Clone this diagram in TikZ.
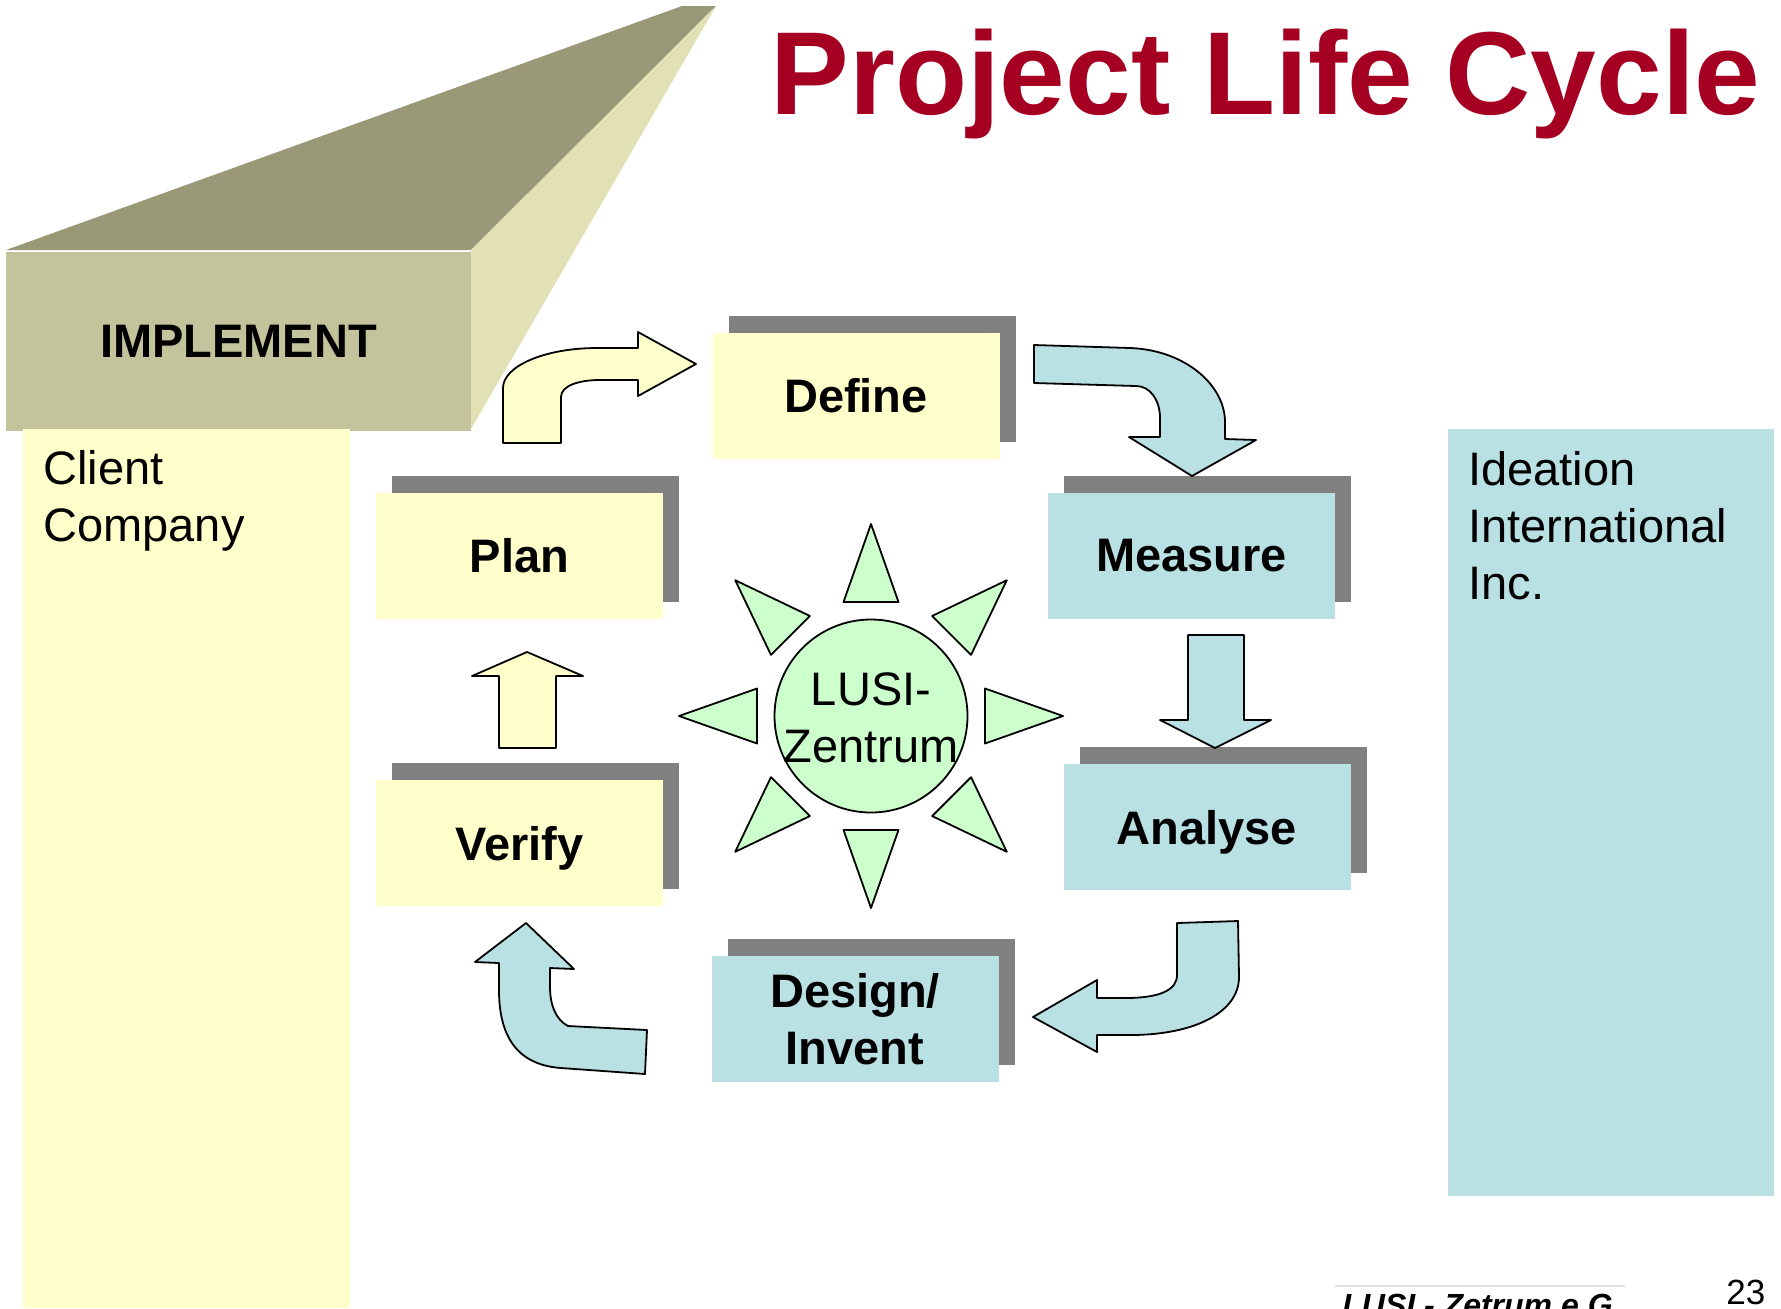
\documentclass[tikz,border=0pt]{standalone}
\usepackage{fontspec}
\setmainfont{Liberation Sans}
\usepackage{tikz}
\usetikzlibrary{shadows,positioning}
\definecolor{titlered}{RGB}{165,0,33}
\definecolor{paleyellow}{RGB}{255,255,204}
\definecolor{paleblue}{RGB}{185,224,227}
\definecolor{palegreen}{RGB}{204,255,204}
\definecolor{boxshadow}{RGB}{128,128,128}
\definecolor{implfront}{RGB}{195,196,156}
\definecolor{impltop}{RGB}{153,153,120}
\definecolor{implside}{RGB}{225,225,181}

\begin{document}
\begin{tikzpicture}[x=0.5pt,y=-0.5pt,
	every node/.style={inner sep=0pt},
	txt/.style={font=\fontsize{23.5}{28.5}\selectfont},
	boldtxt/.style={font=\bfseries\fontsize{23.5}{28.5}\selectfont},
	stepbox/.style={boldtxt,align=center,text depth=0pt,minimum width=143.5pt,minimum height=63pt,
		copy shadow={shadow xshift=8pt,shadow yshift=8.5pt,fill=boxshadow,draw=none}},
	yellowbox/.style={stepbox,fill=paleyellow},
	bluebox/.style={stepbox,fill=paleblue},
	blockarrow/.style={draw=black,line width=0.9pt,line join=round},
	sunray/.style={draw=black,line width=0.9pt,line join=round,fill=palegreen}]
	\useasboundingbox (0,0) rectangle (1781,1308);
	\clip (0,0) rectangle (1781,1308);

	% implement block
	\node[boldtxt,fill=implfront,minimum width=232.5pt,minimum height=89.5pt] (impl) at (238.5,341) {IMPLEMENT};
	\fill[impltop] (6,250) -- (682,6) -- (716,6) -- (471,250) -- cycle;
	\fill[implside] (471,250) -- (716,6) -- (471,429) -- cycle;

	% columns
	\fill[paleyellow] (23,429) rectangle (350,1308);
	\node[txt,anchor=north west,align=left] (client) at (43,450) {Client\\Company};
	\fill[paleblue] (1448,429) rectangle (1774,1196);
	\node[txt,anchor=north west,align=left] (ideation) at (1468,451) {Ideation\\International\\Inc.};

	% cycle
	\node[yellowbox] (define) at (856,395.5) {Define};
	\node[yellowbox] (plan) at (519.5,555.5) {Plan};
	\node[yellowbox] (verify) at (519.5,843) {Verify};
	\node[bluebox] (measure) at (1191.5,555.5) {Measure};
	\node[bluebox] (analyse) at (1207,827) {Analyse};
	\node[bluebox] (design) at (855,1019) {Design/\\Invent};

	\draw[blockarrow,fill=paleyellow] (503,443) -- (503,388) .. controls (503,366) and (545,348) .. (597,348)
		-- (638,348) -- (638,332) -- (696,364) -- (638,396) -- (638,380) -- (600,380)
		.. controls (578,380) and (561,386) .. (561,397) -- (561,443) -- cycle;
	\draw[blockarrow,fill=paleblue] (1034,345) -- (1130,348) .. controls (1185,350) and (1225,385) .. (1225,422)
		-- (1225,439) -- (1256,440) -- (1192,476) -- (1129,437) -- (1160,437) -- (1160,418)
		.. controls (1160,400) and (1150,386) .. (1136,386) -- (1034,383) -- cycle;
	\draw[blockarrow,fill=paleblue] (1188,635) -- (1244,635) -- (1244,720) -- (1271,720) -- (1215,748)
		-- (1160,720) -- (1188,720) -- cycle;
	\draw[blockarrow,fill=paleblue] (1177,923) -- (1238,921) -- (1239,977) .. controls (1239,1012) and (1195,1035) .. (1130,1035)
		-- (1097,1035) -- (1097,1052) -- (1033,1017) -- (1097,980) -- (1097,998) -- (1125,998)
		.. controls (1160,998) and (1177,990) .. (1177,975) -- cycle;
	\draw[blockarrow,fill=paleblue] (647,1030) -- (568,1026) .. controls (556,1020) and (550,1005) .. (550,987)
		-- (550,968) -- (574,969) -- (526,923) -- (475,962) -- (499,963) -- (499,990)
		.. controls (499,1040) and (520,1065) .. (561,1068) -- (645,1074) -- cycle;
	\draw[blockarrow,fill=paleyellow] (499,748) -- (556,748) -- (556,676) -- (583,676) -- (527,652)
		-- (472,676) -- (499,676) -- cycle;

	% sun
	\node[circle,draw=black,line width=0.9pt,fill=palegreen,minimum size=96.5pt] (sun) at (871,716) {};
	\foreach \a in {0,45,...,315}
		\draw[sunray,shift={(sun.center)},rotate=\a] (192,0) -- (114,27.5) -- (114,-27.5) -- cycle;
	\node[txt,align=center] (sunlabel) at (871,718) {LUSI-\\Zentrum};

	% title and footer
	\node[font=\bfseries\fontsize{59}{70}\selectfont,text=titlered,anchor=base west] (title) at (770,114) {Project Life Cycle};
	\draw[black!12,line width=1pt] (1335,1286) -- (1625,1286);
	\node[font=\bfseries\itshape\fontsize{16}{19}\selectfont,anchor=base west] (footer) at (1342,1316) {LUSI - Zetrum e.G.};
	\node[font=\fontsize{17.5}{21}\selectfont,anchor=base west] (pagenum) at (1726,1304) {23};
\end{tikzpicture}
\end{document}
